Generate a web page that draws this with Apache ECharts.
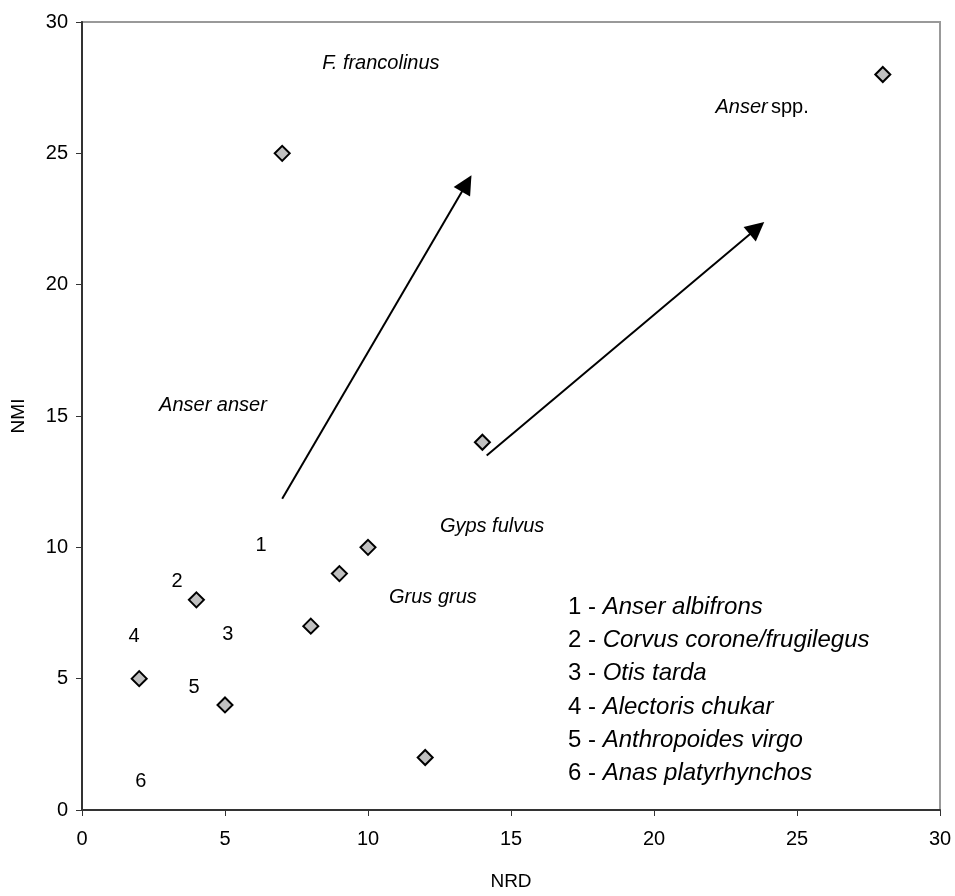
<!DOCTYPE html>
<html>
<head>
<meta charset="utf-8">
<script src="https://cdn.jsdelivr.net/npm/echarts@6/dist/echarts.min.js"></script>
<style>
  html, body { margin: 0; padding: 0; background: #fff; }
  #chart { width: 955px; height: 896px; }
</style>
</head>
<body>
<div id="chart"></div>
<script>
// ---- data ----
const nrd = [7, 28, 14, 10, 9, 4, 8, 2, 5, 12];
const nmi = [25, 28, 14, 10, 9, 8, 7, 5, 4, 2];

const xMin = 0, xMax = 30, xStep = 5;
const yMin = 0, yMax = 30, yStep = 5;
const xTitle = 'NRD';
const yTitle = 'NMI';

// species annotations (anchored in data units)
const speciesNames = ['F. francolinus', 'Anser spp.', 'Anser anser', 'Gyps fulvus', 'Grus grus'];
const speciesX = [10.45, 23.78, 4.58, 14.34, 12.27];
const speciesY = [28.43, 26.75, 15.42, 10.8, 8.09];

// numbered point annotations
const numberNames = ['1', '2', '3', '4', '5', '6'];
const numberX = [6.26, 3.32, 5.10, 1.82, 3.92, 2.06];
const numberY = [10.08, 8.71, 6.70, 6.62, 4.65, 1.09];

// arrows (start -> end), data units
const arrowStarts = [[7.0, 11.85], [14.15, 13.5]];
const arrowEnds = [[13.45, 23.85], [23.6, 22.15]];

// key text
const keyNumbers = ['1', '2', '3', '4', '5', '6'];
const keyNames = ['Anser albifrons', 'Corvus corone/frugilegus', 'Otis tarda',
                  'Alectoris chukar', 'Anthropoides virgo', 'Anas platyrhynchos'];

// ---- chart ----
const FONT = 'Liberation Sans, Arial, sans-serif';
const chart = echarts.init(document.getElementById('chart'), null, { renderer: 'canvas' });

const points = nrd.map((x, i) => [x, nmi[i]]);
const speciesData = speciesNames.map((n, i) => ({ name: n, value: [speciesX[i], speciesY[i]] }));
const numberData = numberNames.map((n, i) => ({ name: n, value: [numberX[i], numberY[i]] }));
const arrowData = arrowStarts.map((s, i) => ({ coords: [s, arrowEnds[i]] }));

const keyGraphics = keyNumbers.map((k, i) => ({
  type: 'text',
  x: 568,
  y: 607 + i * 33.3,
  silent: true,
  style: {
    text: '{n|' + k + ' - }{i|' + keyNames[i] + '}',
    verticalAlign: 'middle',
    fill: '#000',
    rich: {
      n: { fontFamily: FONT, fontSize: 24, fill: '#000', fontStyle: 'normal' },
      i: { fontFamily: FONT, fontSize: 24, fill: '#000', fontStyle: 'italic' }
    }
  }
}));

const textRich = {
  i: { fontFamily: FONT, fontSize: 20, fontStyle: 'italic', color: '#000' },
  n: { fontFamily: FONT, fontSize: 20, fontStyle: 'normal', color: '#000' }
};

chart.setOption({
  animation: false,
  backgroundColor: '#fff',
  grid: {
    left: 82, right: 15, top: 22, bottom: 83,
    show: true, borderColor: '#999', borderWidth: 2, backgroundColor: 'transparent'
  },
  xAxis: {
    type: 'value', min: xMin, max: xMax, interval: xStep,
    name: xTitle, nameLocation: 'middle', nameGap: 62,
    nameTextStyle: { fontFamily: FONT, fontSize: 19, color: '#000' },
    axisLine: { show: true, onZero: false, lineStyle: { color: '#333', width: 2 } },
    axisTick: { show: true, inside: false, length: 6, lineStyle: { color: '#333', width: 1 } },
    axisLabel: { fontFamily: FONT, fontSize: 20, color: '#000', margin: 19 },
    splitLine: { show: false }
  },
  yAxis: {
    type: 'value', min: yMin, max: yMax, interval: yStep,
    name: yTitle, nameLocation: 'middle', nameGap: 54, nameRotate: 90,
    nameTextStyle: { fontFamily: FONT, fontSize: 19, color: '#000' },
    axisLine: { show: true, onZero: false, lineStyle: { color: '#333', width: 2 } },
    axisTick: { show: true, inside: false, length: 6, lineStyle: { color: '#333', width: 1 } },
    axisLabel: { fontFamily: FONT, fontSize: 20, color: '#000', margin: 14 },
    splitLine: { show: false }
  },
  series: [
    {
      type: 'lines',
      coordinateSystem: 'cartesian2d',
      polyline: false,
      symbol: ['none', 'triangle'],
      symbolSize: 19,
      silent: true,
      lineStyle: { color: '#000', width: 2, opacity: 1, curveness: 0 },
      itemStyle: { color: '#000' },
      effect: { show: false },
      data: arrowData,
      z: 3
    },
    {
      type: 'scatter',
      symbol: 'diamond',
      symbolSize: 15,
      silent: true,
      itemStyle: { color: '#c0c0c0', borderColor: '#000', borderWidth: 2, opacity: 1 },
      data: points,
      z: 4
    },
    {
      type: 'scatter',
      symbolSize: 1,
      silent: true,
      itemStyle: { color: 'rgba(0,0,0,0)', opacity: 1 },
      label: {
        show: true, position: 'inside', color: '#000', opacity: 1,
        formatter: (p) => {
          const n = p.name;
          if (/ spp\.$/.test(n)) {
            return '{i|' + n.replace(/ spp\.$/, '') + '} {n|spp.}';
          }
          return '{i|' + n + '}';
        },
        rich: textRich
      },
      data: speciesData,
      z: 5
    },
    {
      type: 'scatter',
      symbolSize: 1,
      silent: true,
      itemStyle: { color: 'rgba(0,0,0,0)', opacity: 1 },
      label: {
        show: true, position: 'inside', color: '#000', opacity: 1,
        formatter: '{n|{b}}',
        rich: textRich
      },
      data: numberData,
      z: 5
    }
  ],
  graphic: keyGraphics
});
</script>
</body>
</html>
